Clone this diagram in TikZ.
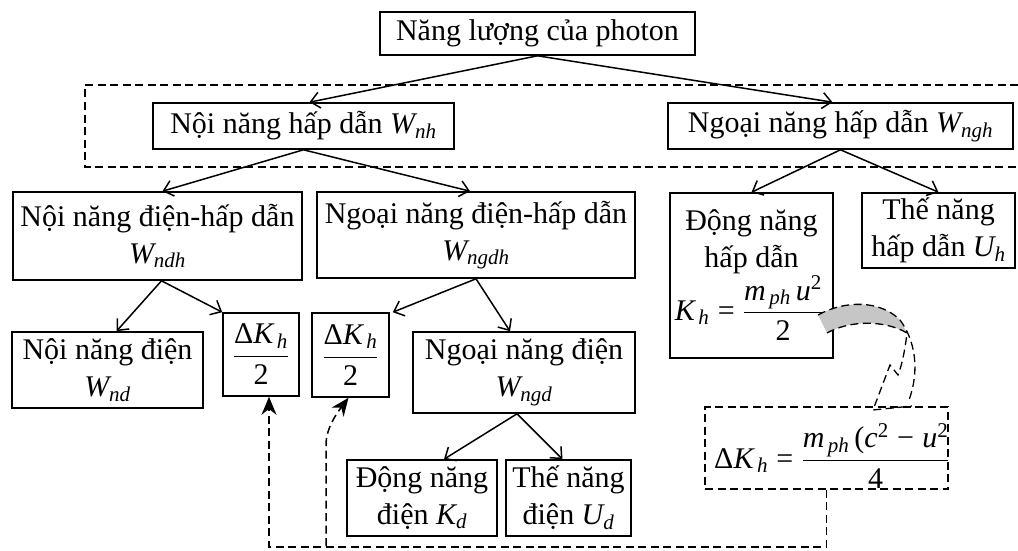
\documentclass[tikz,border=0pt]{standalone}
\usepackage{fix-cm}
\usepackage{amsmath}
\usepackage{fontspec}
\setmainfont{Liberation Serif}
\usetikzlibrary{arrows.meta,calc}
\newcommand{\iv}[1]{\text{\itshape #1}}
\newcommand{\VV}[2]{$\iv{#1}_{\iv{#2}}$}
\begin{document}
\begin{tikzpicture}[x=1pt,y=-1pt,
  box/.style={draw, line width=1.6pt, inner sep=0pt, align=center, font=\fontsize{30}{37}\selectfont},
  txt/.style={inner sep=0pt, font=\fontsize{30}{37}\selectfont},
  arr/.style={line width=1.5pt, -{Straight Barb[length=9pt,width=16pt,line width=1.5pt]}},
  dline/.style={line width=1.5pt, dash pattern=on 8pt off 4.5pt},
  darr/.style={dline, -{Stealth[length=18pt,width=15pt]}}]
\useasboundingbox (0,0) rectangle (1018,551);

% dashed frame around second row
\draw[dline] (1018,85) -- (85,85) -- (85,167) -- (1018,167);

\node[box, minimum width=315pt, minimum height=43pt] (top) at (537.5,33.5) {Năng lượng của photon};
\node[box, minimum width=301pt, minimum height=46pt] (nh) at (303.5,126) {Nội năng hấp dẫn \VV{W}{nh}};
\node[box, minimum width=345pt, minimum height=46pt] (ngh) at (840.5,126) {Ngoại năng hấp dẫn \VV{W}{ngh}};

\node[box, minimum width=289pt, minimum height=88pt] (ndh) at (157.5,236) {Nội năng điện-hấp dẫn\\\VV{W}{ndh}};
\node[box, minimum width=318pt, minimum height=86pt] (ngdh) at (476,235) {Ngoại năng điện-hấp dẫn\\\VV{W}{ngdh}};
\node[box, minimum width=163pt, minimum height=165pt] (kh) at (751.5,275.5) {Động năng\\hấp dẫn\\[0pt]$\displaystyle \iv{K}_{\,\iv{h}} \;\text{=}\; \frac{\iv{m}_{\,\iv{ph}}\,\iv{u}^{\text{2}}}{\text{2}}$\hspace*{5pt}};
\node[box, minimum width=153pt, minimum height=75pt] (uh) at (938.5,230.5) {Thế năng\\hấp dẫn \VV{U}{h}};

\node[box, minimum width=191pt, minimum height=76pt] (nd) at (107.5,370) {Nội năng điện\\\VV{W}{nd}};
\node[box, minimum width=76pt, minimum height=83pt] (dk1) at (261,354.5) {$\displaystyle\frac{\text{Δ}\iv{K}_{\,\iv{h}}}{\text{2}}$};
\node[box, minimum width=77pt, minimum height=84pt] (dk2) at (350.5,355) {$\displaystyle\frac{\text{Δ}\iv{K}_{\,\iv{h}}}{\text{2}}$};
\node[box, minimum width=222pt, minimum height=81pt] (ngd) at (524,372.5) {Ngoại năng điện\\\VV{W}{ngd}};

\node[box, minimum width=150pt, minimum height=76pt] (kd) at (422,498) {Động năng\\điện \VV{K}{d}};
\node[box, minimum width=125pt, minimum height=76pt] (ud) at (568.5,498) {Thế năng\\điện \VV{U}{d}};

% dashed formula box
\node[draw, dline, minimum width=243pt, minimum height=82pt, inner sep=0pt] (fbox) at (826.5,448) {};
\node[txt, anchor=east] (ftxt) at ([xshift=1pt,yshift=-8pt]fbox.east) {$\displaystyle \text{Δ}\iv{K}_{\,\iv{h}} \;\text{=}\; \frac{\iv{m}_{\,\iv{ph}}\,\text{(}\iv{c}^{\text{2}} \;\text{−}\; \iv{u}^{\text{2}}}{\text{4}}$};

% arrows
\draw[arr] (top.south) -- ([xshift=6pt]nh.north);
\draw[arr] (top.south) -- ([xshift=-8pt]ngh.north);
\draw[arr] (nh.south) -- ([xshift=5pt]ndh.north);
\draw[arr] (nh.south) -- ([xshift=-6pt]ngdh.north);
\draw[arr] (ngh.south) -- (kh.north);
\draw[arr] (ngh.south) -- (uh.north);
\draw[arr] ([xshift=4pt]ndh.south) -- ([xshift=9pt]nd.north);
\draw[arr] ([xshift=4pt]ndh.south) -- (dk1.north west);
\draw[arr] (ngdh.south) -- ([xshift=3pt]dk2.north east);
\draw[arr] (ngdh.south) -- ([xshift=-14pt]ngd.north);
\draw[arr] ([xshift=-7pt]ngd.south) -- ([xshift=22pt]kd.north);
\draw[arr] ([xshift=-7pt]ngd.south) -- ([xshift=-6pt]ud.north);

% dashed connectors
\coordinate (c2) at (326,546);
\draw[darr] (fbox.south) -- ++(0,57) -| ([xshift=8pt]dk1.south);
\draw[darr] (c2) -- (326,445) .. controls (326,428) and (337,413) .. ([xshift=-2pt]dk2.south);

% ribbon from K_h to formula box
\fill[gray!45] (818,315) .. controls (845,300) and (880,300) .. (900,320) -- (907,333) .. controls (885,320) and (850,320) .. (827,333) -- cycle;
\draw[dline, line width=1.3pt] (818,315) .. controls (845,300) and (880,300) .. (900,320) .. controls (915,340) and (920,370) .. (909,400);
\draw[dline, line width=1.3pt] (827,333) .. controls (850,320) and (885,320) .. (907,333) .. controls (905,350) and (902,365) .. (898,375) -- (890,365) -- (873,410) -- (912,406);
\end{tikzpicture}
\end{document}
